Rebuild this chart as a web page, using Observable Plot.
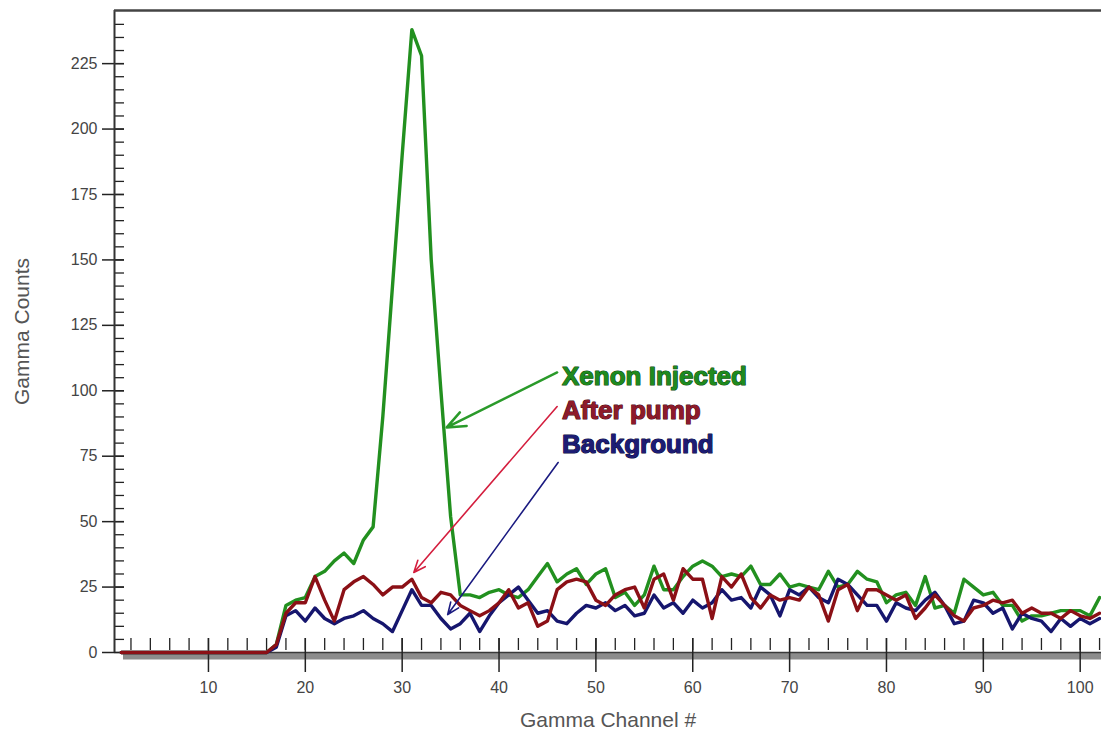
<!DOCTYPE html>
<html><head><meta charset="utf-8">
<script src="https://cdn.jsdelivr.net/npm/d3@7"></script>
<script src="https://cdn.jsdelivr.net/npm/@observablehq/plot@0.6"></script>
<style>html,body{margin:0;padding:0;background:#fff;overflow:hidden}</style>
</head><body><div id="chart"></div>
<script>
// Gamma channels 1..102
const channels = d3.range(1, 103);

const xenonInjected = [
  0,0,0,0,0,0,0,0,0,0, 0,0,0,0,0,0,
  3,18,20,21,29,31,35,38,34,43,
  48,90,140,190,238,228,150,100,52,22,
  22,21,23,24,22,21,24,29,34,27,
  30,32,26,30,32,21,23,18,22,33,
  24,24,29,33,35,33,29,30,29,33,
  26,26,30,25,26,25,24,31,25,26,
  31,28,27,19,22,23,18,29,17,18,
  15,28,25,22,23,18,18,12,14,14,
  15,16,16,16,14,21
];
const afterPump = [
  0,0,0,0,0,0,0,0,0,0, 0,0,0,0,0,0,
  3,15,19,19,29,20,12,24,27,29,
  26,22,25,25,28,21,19,23,22,18,
  16,14,16,19,24,17,19,10,12,24,
  27,28,27,20,18,22,24,25,17,28,
  30,20,32,28,28,13,29,25,30,21,
  17,22,20,21,20,25,22,12,24,26,
  16,24,24,22,20,22,13,17,22,18,
  14,12,17,18,20,19,20,15,17,15,
  15,13,16,14,13,15
];
const background = [
  0,0,0,0,0,0,0,0,0,0, 0,0,0,0,0,0,
  2,14,16,12,17,13,11,13,14,16,
  13,11,8,16,24,18,18,13,9,11,
  15,8,14,19,22,25,20,15,16,12,
  11,15,18,17,19,16,18,14,15,22,
  17,19,15,20,17,19,24,20,21,17,
  25,22,14,24,22,25,21,19,28,26,
  22,18,18,12,19,17,16,20,23,18,
  11,12,20,19,15,17,9,15,13,12,
  8,13,10,13,11,13
];

const seriesNames = ["Xenon Injected", "After pump", "Background"];
const xTickLabels = [10, 20, 30, 40, 50, 60, 70, 80, 90, 100];
const xMinorTicks = d3.range(2, 103, 2);
const yTickLabels = [0, 25, 50, 75, 100, 125, 150, 175, 200, 225];
const yMinorTicks = d3.range(0, 245, 5);
const xDomain = [0.3, 102.2];
const yDomain = [0, 245.3];

// annotation labels (channel, counts) and their arrows
const labelChannel = [46.5, 46.5, 46.5];
const labelCounts = [105.4, 92.4, 79.4];
const arrowStart = [[46.0, 107], [46.0, 94], [46.1, 72.6]];
const arrowEnd = [[34.6, 86], [31.2, 30.6], [34.7, 14.5]];

const seriesValues = [xenonInjected, afterPump, background];
const lineColors = ["#22901f", "#8b1016", "#16166e"];
const textFill = ["#1e8a1e", "#8e1a2a", "#1c1c74"];
const textStroke = ["#0e4a0e", "#4a0a12", "#0c0c3c"];
const arrowColors = ["#2a9a2a", "#d41e3e", "#1a1a80"];
const arrowWidths = [2.5, 1.6, 1.6];

const rows = seriesValues.map(vals => channels.map((c, i) => ({channel: c, counts: vals[i]})));

const drawOrder = [0, 2, 1];

const marks = [
  Plot.ruleY([0], {stroke: "#8c8c8c", strokeWidth: 7, dy: 3.5, insetLeft: 9}),
  Plot.ruleY([0], {stroke: "#3a3a3a", strokeWidth: 1.5, insetLeft: 9}),
  Plot.tickX(xMinorTicks, {x: d => d, stroke: "#222", strokeWidth: 1.3, insetTop: 628, insetBottom: 2}),
  Plot.tickX(xTickLabels, {x: d => d, stroke: "#222", strokeWidth: 1.5, insetTop: 628, insetBottom: -20}),
  Plot.tickY(yMinorTicks, {y: d => d, stroke: "#222", strokeWidth: 1.3, insetLeft: 0, insetRight: 977}),
  Plot.tickY(yTickLabels, {y: d => d, stroke: "#222", strokeWidth: 1.5, insetLeft: -12, insetRight: 977}),
  Plot.ruleX([xDomain[0]], {stroke: "#333", strokeWidth: 2}),
  Plot.ruleY([yDomain[1]], {stroke: "#444", strokeWidth: 2.5}),
  Plot.axisX({ticks: xTickLabels, tickSize: 0, tickPadding: 29, label: null, fontSize: 16, fill: "#444"}),
  Plot.axisY({ticks: yTickLabels, tickSize: 0, tickPadding: 17, label: null, fontSize: 16, fill: "#444"}),
  ...drawOrder.map(k => Plot.line(rows[k], {x: "channel", y: "counts", stroke: lineColors[k], strokeWidth: 3.4, strokeLinejoin: "round"})),
  ...seriesNames.map((name, k) => Plot.arrow([name], {
    x1: () => arrowStart[k][0], y1: () => arrowStart[k][1],
    x2: () => arrowEnd[k][0], y2: () => arrowEnd[k][1],
    stroke: arrowColors[k], strokeWidth: arrowWidths[k], headLength: 12, headAngle: 45
  })),
  ...seriesNames.map((name, k) => Plot.text([name], {
    x: () => labelChannel[k], y: () => labelCounts[k], text: d => d,
    fill: textFill[k], stroke: textStroke[k], strokeWidth: 1.2,
    fontWeight: "bold", fontSize: 26, textAnchor: "start", lineAnchor: "middle"
  })),
  Plot.text(["Gamma Counts"], {frameAnchor: "left", rotate: -90, dx: -92, text: d => d, fontSize: 21, fill: "#555", textAnchor: "middle", lineAnchor: "middle"}),
  Plot.text(["Gamma Channel #"], {frameAnchor: "bottom", dy: 68, text: d => d, fontSize: 21, fill: "#555", textAnchor: "middle", lineAnchor: "middle"})
];

const chart = Plot.plot({
  width: 1101,
  height: 731,
  marginLeft: 114,
  marginRight: 0,
  marginTop: 10,
  marginBottom: 79,
  x: {domain: xDomain},
  y: {domain: yDomain},
  style: {fontFamily: "'Liberation Sans', Arial, sans-serif", background: "#fff", overflow: "visible"},
  marks
});
document.getElementById("chart").appendChild(chart);
</script>
</body></html>
